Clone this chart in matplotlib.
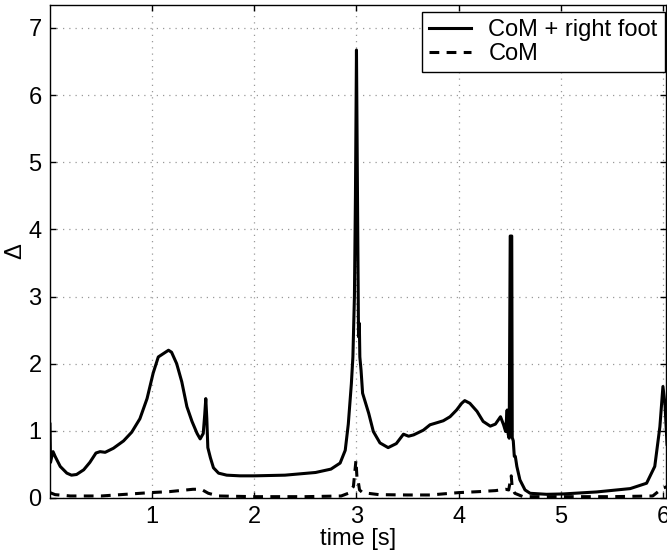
import numpy as np
import matplotlib
matplotlib.use("Agg")
import matplotlib.pyplot as plt

# values
t_foot = [0.0, 0.005, 0.015, 0.03, 0.05, 0.10, 0.165, 0.21, 0.26, 0.33, 0.39, 0.45, 0.49,
          0.54, 0.62, 0.72, 0.80, 0.88, 0.95, 1.01, 1.06, 1.11, 1.16, 1.19, 1.24, 1.29,
          1.34, 1.39, 1.44, 1.47, 1.50, 1.515, 1.525, 1.535, 1.545, 1.57, 1.60, 1.65,
          1.73, 1.86, 2.0, 2.3, 2.6, 2.75, 2.84, 2.89, 2.92, 2.95, 2.965, 2.98, 2.99,
          3.0, 3.01, 3.02, 3.028, 3.033, 3.045, 3.06, 3.12, 3.165, 3.23, 3.31, 3.39,
          3.46, 3.51, 3.56, 3.655, 3.72, 3.786, 3.85, 3.916, 3.98, 4.03, 4.06, 4.11,
          4.18, 4.24, 4.31, 4.36, 4.41, 4.44, 4.46, 4.475, 4.485, 4.495, 4.505, 4.52,
          4.525, 4.535, 4.545, 4.555, 4.57, 4.60, 4.65, 4.70, 4.86, 5.02, 5.35, 5.68,
          5.84, 5.92, 5.97, 6.0, 6.02, 6.04]
d_foot = [1.1, 0.53, 0.60, 0.69, 0.62, 0.47, 0.37, 0.34, 0.35, 0.42, 0.53, 0.67, 0.69,
          0.68, 0.74, 0.85, 0.98, 1.18, 1.48, 1.86, 2.10, 2.15, 2.20, 2.17, 2.00, 1.73,
          1.36, 1.14, 0.96, 0.88, 0.96, 1.25, 1.48, 1.18, 0.75, 0.60, 0.45, 0.37,
          0.34, 0.33, 0.33, 0.34, 0.38, 0.43, 0.52, 0.71, 1.1, 1.7, 2.1, 3.0, 4.5,
          6.67, 4.5, 2.4, 2.6, 2.1, 1.9, 1.56, 1.26, 0.99, 0.82, 0.75, 0.81,
          0.95, 0.92, 0.94, 1.01, 1.09, 1.12, 1.15, 1.21, 1.31, 1.41, 1.45, 1.41,
          1.29, 1.14, 1.07, 1.10, 1.21, 1.09, 0.99, 1.31, 0.95, 0.89, 3.9, 3.9,
          0.9, 0.85, 0.62, 0.62, 0.47, 0.27, 0.12, 0.07, 0.055, 0.06, 0.09, 0.14,
          0.22, 0.47, 1.06, 1.66, 1.4, 0.8]

t_com = [0.0, 0.05, 0.2, 0.5, 0.98, 1.17, 1.40, 1.48, 1.55, 1.65, 2.0, 2.5, 2.85, 2.92,
         2.97, 2.995, 3.005, 3.012, 3.02, 3.03, 3.06, 3.22, 3.5, 3.72, 4.0, 4.2, 4.36,
         4.46, 4.49, 4.515, 4.525, 4.55, 4.63, 5.0, 5.5, 5.9, 5.99, 6.04]
d_com = [0.08, 0.05, 0.03, 0.03, 0.08, 0.095, 0.13, 0.13, 0.07, 0.03, 0.02, 0.02, 0.03,
         0.07, 0.17, 0.56, 0.3, 0.3, 0.22, 0.12, 0.08, 0.05, 0.045, 0.045, 0.08, 0.095,
         0.11, 0.13, 0.12, 0.33, 0.15, 0.07, 0.02, 0.02, 0.02, 0.03, 0.14, 0.17]

x_ticks = [1, 2, 3, 4, 5, 6]
y_ticks = [0, 1, 2, 3, 4, 5, 6, 7]

plt.rcParams['font.family'] = ['Liberation Sans', 'DejaVu Sans']
plt.rcParams['font.size'] = 17

fig = plt.figure(figsize=(6.67, 5.55), dpi=100)
ax = fig.add_axes([50 / 667, 1 - 498 / 555, 616 / 667, 493 / 555])

ax.plot(t_foot, d_foot, color='k', lw=2.2, label='CoM + right foot')
ax.plot(t_com, d_com, color='k', lw=2.2, dashes=(3.2, 2.4), label='CoM')

ax.set_xlim(0, 6.03)
ax.set_ylim(0, 7.34)
ax.set_xticks(x_ticks)
ax.set_yticks(y_ticks)
ax.grid(True, color='#999999', linestyle=(0, (1, 4)), lw=0.9)
ax.tick_params(direction='in', top=True, right=True, length=4, width=1, pad=6)
for s in ax.spines.values():
    s.set_linewidth(1.0)

ax.set_xlabel('time [s]', labelpad=0)
ax.set_ylabel('Δ')
ax.yaxis.set_label_coords(-0.038, 0.5)

leg = ax.legend(loc='upper right', bbox_to_anchor=(0.998, 0.986), borderaxespad=0,
                fancybox=False, framealpha=1, edgecolor='k', handlelength=1.75,
                handletextpad=0.75, labelspacing=0.08, borderpad=0.3)
leg.get_frame().set_linewidth(1.0)

fig.savefig('out.png', dpi=100)
